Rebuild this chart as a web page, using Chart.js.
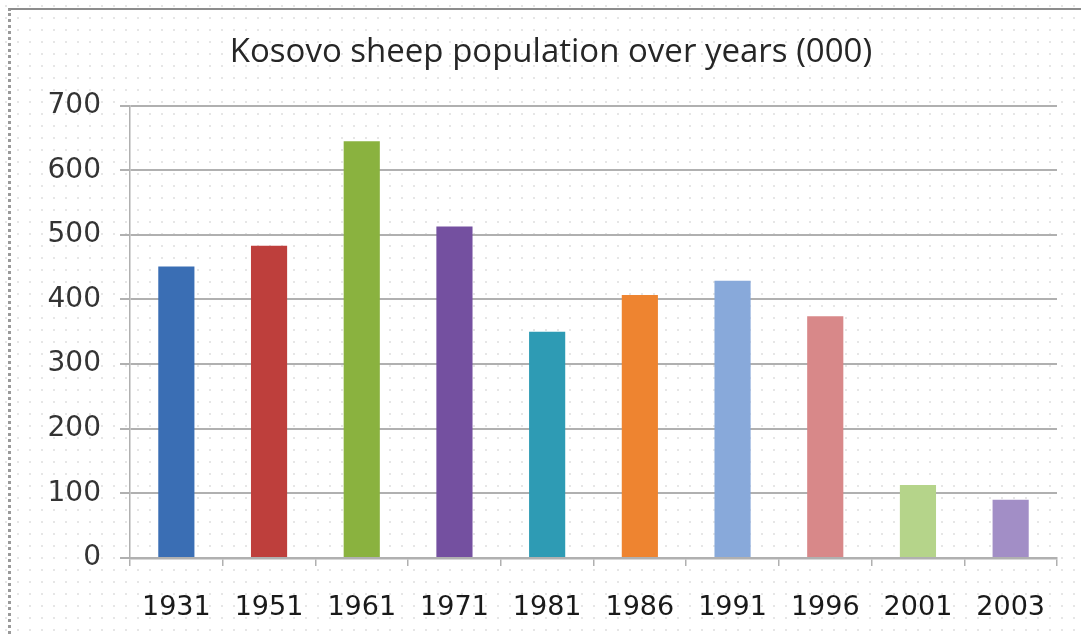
<!DOCTYPE html>
<html>
<head>
<meta charset="utf-8">
<script src="https://cdn.jsdelivr.net/npm/chart.js@4/dist/chart.umd.min.js"></script>
<style>
    html, body {
        margin: 0;
        padding: 0;
        background: #ffffff;
    }
    #wrap {
        position: relative;
        width: 1081px;
        height: 635px;
        background-color: #ffffff;
        background-image: radial-gradient(#e6e6e6 1px, transparent 1.2px);
        background-size: 12px 12px;
    }
    #frame {
        position: absolute;
        left: 8px;
        top: 8px;
        right: -4px;
        bottom: -4px;
        border-left: 3px dotted #9a9a9a;
        border-top: 2px solid #8c8c8c;
        pointer-events: none;
    }
    #myChart {
        position: absolute;
        left: 0;
        top: 0;
    }
</style>
</head>
<body>
<div id="wrap">
    <canvas id="myChart" width="1081" height="635"></canvas>
    <div id="frame"></div>
</div>
<script>
const years = ['1931', '1951', '1961', '1971', '1981', '1986', '1991', '1996', '2001', '2003'];
const sheep = [451, 483, 645, 513, 350, 407, 429, 374, 113, 90];
const barColors = ['#3a6eb4', '#be3f3c', '#8ab23f', '#7450a0', '#2e9bb4',
                   '#ee8430', '#88a9da', '#d88889', '#b5d48a', '#a28ec6'];
const yTicks = [0, 100, 200, 300, 400, 500, 600, 700];

const gridGray = '#b0b0b0';
const ctx = document.getElementById('myChart').getContext('2d');

let chart = new Chart(ctx, {
    type: 'bar',
    data: {
        labels: years,
        datasets: [{
            label: 'Sheep (000)',
            data: sheep,
            backgroundColor: barColors,
            borderWidth: 0,
            barPercentage: 0.39,
            categoryPercentage: 1.0
        }]
    },
    options: {
        responsive: false,
        animation: false,
        layout: {
            // left padding shifts the centred title a little to the right
            padding: { left: 45, right: 24, top: 0, bottom: 0 }
        },
        plugins: {
            legend: { display: false },
            tooltip: { enabled: false },
            title: {
                display: true,
                text: 'Kosovo sheep population over years (000)',
                color: '#262626',
                font: { family: 'Open Sans', size: 33, weight: 'normal', lineHeight: 1.2 },
                padding: { top: 33, bottom: 33 }
            }
        },
        scales: {
            x: {
                offset: true,
                grid: {
                    display: true,
                    drawOnChartArea: false,
                    drawTicks: true,
                    tickLength: 8,
                    color: gridGray,
                    lineWidth: 1.5
                },
                border: { display: true, color: gridGray, width: 2.5 },
                ticks: {
                    color: '#1a1a1a',
                    font: { family: 'DejaVu Sans', size: 27 },
                    padding: 26,
                    maxRotation: 0
                },
                afterFit: function(scale) {
                    scale.height = 77;
                }
            },
            y: {
                min: 0,
                max: 700,
                afterBuildTicks: function(scale) {
                    scale.ticks = yTicks.map(v => ({ value: v }));
                },
                grid: {
                    color: gridGray,
                    lineWidth: 2,
                    drawTicks: true,
                    tickLength: 10
                },
                border: { display: true, color: gridGray, width: 1.5 },
                ticks: {
                    color: '#333333',
                    font: { family: 'DejaVu Sans', size: 28 },
                    padding: 19
                },
                afterFit: function(scale) {
                    scale.width = 85;
                }
            }
        }
    }
});
</script>
</body>
</html>
